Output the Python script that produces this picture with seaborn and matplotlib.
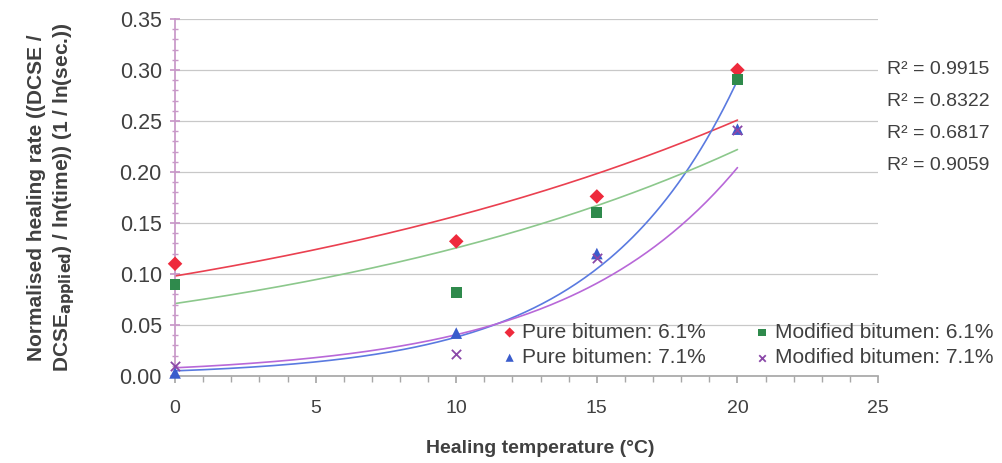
import numpy as np
import pandas as pd
import matplotlib
matplotlib.use("Agg")
import matplotlib.pyplot as plt
from matplotlib.ticker import MultipleLocator
import seaborn as sns

# ---- data ----
temperature = [0, 10, 15, 20]
series_names = ["Pure bitumen: 6.1%", "Pure bitumen: 7.1%",
                "Modified bitumen: 6.1%", "Modified bitumen: 7.1%"]
pure_61 = [0.110, 0.132, 0.176, 0.300]
pure_71 = [0.003, 0.042, 0.120, 0.242]
mod_61 = [0.090, 0.082, 0.160, 0.291]
mod_71 = [0.010, 0.022, 0.116, 0.241]

# exponential trendlines y = a * exp(b * x) as drawn
trend_a = [0.098, 0.005, 0.071, 0.008]
trend_b = [0.047, 0.203, 0.057, 0.162]
r_squared = ["0.9915", "0.8322", "0.6817", "0.9059"]

marker_colors = ["#ee2a3c", "#3a5ccc", "#2f8a4c", "#8a48a8"]
line_colors = ["#ea4050", "#5a7ae0", "#8cc88c", "#b868d8"]
markers = ["D", "^", "s", "X"]

sns.set_theme(style="white")
plt.rcParams["font.family"] = ["Liberation Sans", "DejaVu Sans"]

fig = plt.figure(figsize=(10.02, 4.63), dpi=100)
ax = fig.add_axes([0.1747, 0.188, 0.7016, 0.771])

values = [pure_61, pure_71, mod_61, mod_71]
df = pd.DataFrame({
    "temp": np.tile(temperature, 4),
    "rate": np.concatenate(values),
    "series": np.repeat(series_names, len(temperature)),
})

# trendlines
xs = np.linspace(0, 20, 200)
trend_df = pd.DataFrame({
    "temp": np.tile(xs, 4),
    "rate": np.concatenate([a * np.exp(b * xs) for a, b in zip(trend_a, trend_b)]),
    "series": np.repeat(series_names, len(xs)),
})
sns.lineplot(data=trend_df, x="temp", y="rate", hue="series",
             palette=dict(zip(series_names, line_colors)), ax=ax,
             linewidth=1.2, legend=False, zorder=2)

sizes = {"D": 55, "^": 70, "s": 60, "X": 45}
for name, col, mk in zip(series_names, marker_colors, markers):
    sub = df[df["series"] == name]
    if mk == "X":
        sns.scatterplot(data=sub, x="temp", y="rate", ax=ax, marker="x",
                        color=col, s=45, linewidth=1.3, label=name, zorder=3,
                        clip_on=False)
    else:
        sns.scatterplot(data=sub, x="temp", y="rate", ax=ax, marker=mk,
                        color=col, s=sizes[mk], edgecolor="none", label=name,
                        zorder=3, clip_on=False)

ax.set_xlim(0, 25)
ax.set_ylim(0, 0.35)
ax.xaxis.set_major_locator(MultipleLocator(5))
ax.xaxis.set_minor_locator(MultipleLocator(1))
ax.yaxis.set_major_locator(MultipleLocator(0.05))
ax.yaxis.set_minor_locator(MultipleLocator(0.01))
ax.yaxis.set_major_formatter(matplotlib.ticker.FormatStrFormatter("%.2f"))

ax.grid(axis="y", which="major", color="#c8c8c8", linewidth=0.9)
ax.set_axisbelow(True)
for s in ["top", "right"]:
    ax.spines[s].set_visible(False)
ax.spines["left"].set_color("#c898c8")
ax.spines["bottom"].set_color("#a8a8a8")

ax.tick_params(axis="y", which="both", direction="inout", color="#c898c8",
               left=True, labelsize=15.5, labelcolor="#404040", pad=6)
ax.tick_params(axis="y", which="major", length=7)
ax.tick_params(axis="y", which="minor", length=5)
ax.tick_params(axis="x", which="both", direction="out", color="#a8a8a8",
               bottom=True, labelsize=14, labelcolor="#404040", pad=12)
ax.tick_params(axis="x", which="major", length=5)
ax.tick_params(axis="x", which="minor", length=4)

ax.set_xlabel("Healing temperature (\u00b0C)", fontsize=14, fontweight="bold",
              color="#404040")
ax.xaxis.set_label_coords(0.519, -0.18)
ax.set_ylabel("Normalised healing rate ((DCSE /\nDCSE$_{\\mathbf{applied}}$) / ln(time)) (1 / ln(sec.))",
              fontsize=15, fontweight="bold", color="#404040",
              linespacing=1.35)
ax.yaxis.set_label_coords(-0.139, 0.5)

handles, labels = ax.get_legend_handles_labels()
leg = fig.legend(handles, labels, ncol=2, loc="upper left",
                 bbox_to_anchor=(0.492, 0.325), frameon=False, fontsize=15,
                 handlelength=0.6, handletextpad=0.3, columnspacing=2.4,
                 labelspacing=0.3, borderpad=0, markerscale=0.7)
for t in leg.get_texts():
    t.set_color("#404040")
if ax.get_legend():
    ax.get_legend().remove()

for i, r in enumerate(r_squared):
    fig.text(0.885, 1 - (70 + 32 * i) / 463, f"R\u00b2 = {r}", fontsize=14,
             color="#404040", va="center", ha="left")

fig.savefig("out.png", dpi=100)
